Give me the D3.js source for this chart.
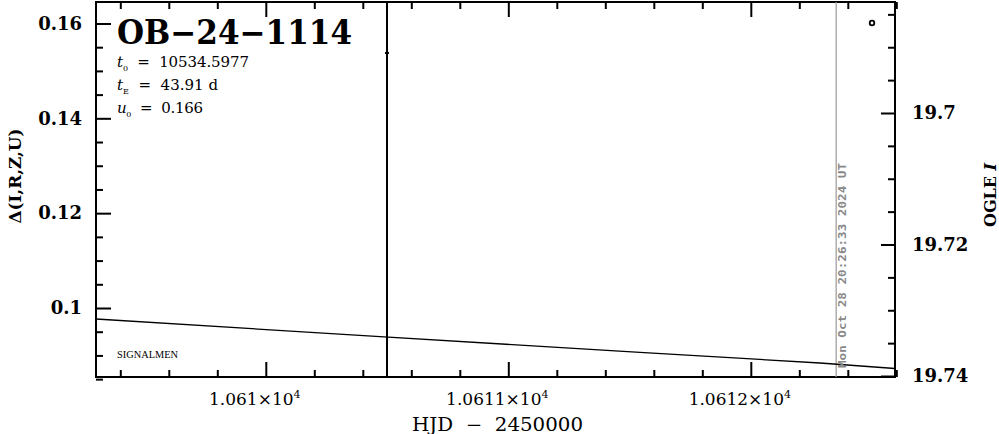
<!DOCTYPE html>
<html><head><meta charset="utf-8">
<script src="https://cdn.jsdelivr.net/npm/d3@7"></script>
<style>body{margin:0;background:#fff}svg{display:block}text{white-space:pre}</style>
</head><body>
<svg id="c" width="999" height="434"></svg>
<script>
// ---- data ----
const xDomain = [10609.2998, 10612.5946];
const deltaDomain = [0.08545, 0.16453];
const magDomain = [19.74015, 19.68312];
const modelHJD = [10609.300, 10610.471, 10611.543, 10612.285, 10612.595];
const modelDelta = [0.09768, 0.09395, 0.09066, 0.08840, 0.08724];
const obsHJD = [10610.4998];
const obsDelta = [0.15378];
const obsErr = [0.30];
const ogleHJD = [10612.4998];
const ogleMag = [19.68631];
const dateLineHJD = 10612.352;
const leftMajor = [0.10, 0.12, 0.14, 0.16];
const leftLabels = ["0.1", "0.12", "0.14", "0.16"];
const rightMajor = [19.70, 19.72, 19.74];
const rightLabels = ["19.7", "19.72", "19.74"];
const xMajor = [10610, 10611, 10612];
const xLabels = ["1.061", "1.0611", "1.0612"];
const paramLabels = [["t", "0", " = 10534.5977"], ["t", "E", " = 43.91 d"], ["u", "0", " = 0.166"]];
const paramWidths = [132, 101, 86];

// ---- layout ----
const L = 96, R = 895, T = 2, B = 377;
const svg = d3.select("#c");
const x = d3.scaleLinear().domain(xDomain).range([L, R]);
const y = d3.scaleLinear().domain(deltaDomain).range([B, T]);
const ym = d3.scaleLinear().domain(magDomain).range([B, T]);

const serif = "'DejaVu Serif', serif";

svg.append("defs").append("clipPath").attr("id", "clip")
  .append("rect").attr("x", L).attr("y", T).attr("width", R - L).attr("height", B - T);

const xMinor = d3.range(10609.4, 10612.6, 0.2).filter(v => Math.abs(v - Math.round(v)) > 1e-6);
const leftMinor = d3.range(0.085, 0.165, 0.005).filter(v => !leftMajor.some(m => Math.abs(m - v) < 1e-6));
const rightMinor = d3.range(19.685, 19.741, 0.005).filter(v => !rightMajor.some(m => Math.abs(m - v) < 1e-6));

function styleAxis(g) {
  g.select(".domain").remove();
  g.selectAll(".tick line").attr("stroke", "#000").attr("stroke-width", 2);
}
// bottom
svg.append("g").attr("transform", `translate(0,${B})`)
  .call(d3.axisBottom(x).tickValues(xMinor).tickSize(-7).tickFormat("")).call(styleAxis);
svg.append("g").attr("transform", `translate(0,${B})`)
  .call(d3.axisBottom(x).tickValues(xMajor).tickSize(-15).tickFormat("")).call(styleAxis);
// top
svg.append("g").attr("transform", `translate(0,${T})`)
  .call(d3.axisTop(x).tickValues(xMinor).tickSize(-7).tickFormat("")).call(styleAxis);
svg.append("g").attr("transform", `translate(0,${T})`)
  .call(d3.axisTop(x).tickValues(xMajor).tickSize(-15).tickFormat("")).call(styleAxis);
// left
svg.append("g").attr("transform", `translate(${L},0)`)
  .call(d3.axisLeft(y).tickValues(leftMinor).tickSize(-7).tickFormat("")).call(styleAxis);
const gl = svg.append("g").attr("transform", `translate(${L},0)`)
  .call(d3.axisLeft(y).tickValues(leftMajor).tickSize(-15).tickPadding(14)
    .tickFormat((d, i) => leftLabels[i])).call(styleAxis);
gl.selectAll("text").attr("font-family", serif).attr("font-weight", "bold")
  .attr("font-size", 18).attr("fill", "#000");
// right
svg.append("g").attr("transform", `translate(${R},0)`)
  .call(d3.axisRight(ym).tickValues(rightMinor).tickSize(-7).tickFormat("")).call(styleAxis);
const gr = svg.append("g").attr("transform", `translate(${R},0)`)
  .call(d3.axisRight(ym).tickValues(rightMajor).tickSize(-14).tickPadding(17)
    .tickFormat((d, i) => rightLabels[i])).call(styleAxis);
gr.selectAll("text").attr("font-family", serif).attr("font-weight", "bold")
  .attr("font-size", 18).attr("fill", "#000");

// x tick labels with superscript
xMajor.forEach((v, i) => {
  const t = svg.append("text").attr("x", x(v) - 11).attr("y", 405)
    .attr("text-anchor", "middle").attr("font-family", serif).attr("font-size", 17);
  t.append("tspan").text(xLabels[i] + "×10");
  t.append("tspan").attr("dy", -7).attr("font-size", 11).text("4");
});

// frame
svg.append("rect").attr("x", L).attr("y", T).attr("width", R - L).attr("height", B - T)
  .attr("fill", "none").attr("stroke", "#000").attr("stroke-width", 2);

const plot = svg.append("g").attr("clip-path", "url(#clip)");
// date line
plot.append("line").attr("x1", x(dateLineHJD)).attr("x2", x(dateLineHJD))
  .attr("y1", T).attr("y2", B).attr("stroke", "#999").attr("stroke-width", 1.2);
// model
plot.append("path").datum(modelHJD.map((h, i) => [h, modelDelta[i]]))
  .attr("d", d3.line().x(d => x(d[0])).y(d => y(d[1])))
  .attr("fill", "none").attr("stroke", "#000").attr("stroke-width", 1.3);
// observation with error bar
obsHJD.forEach((h, i) => {
  plot.append("line").attr("x1", x(h)).attr("x2", x(h))
    .attr("y1", y(obsDelta[i] + obsErr[i])).attr("y2", y(obsDelta[i] - obsErr[i]))
    .attr("stroke", "#000").attr("stroke-width", 2);
  plot.append("rect").attr("x", x(h) - 2).attr("y", y(obsDelta[i]) - 1)
    .attr("width", 4).attr("height", 2).attr("fill", "#000");
});
// OGLE point
ogleHJD.forEach((h, i) => {
  plot.append("circle").attr("cx", x(h)).attr("cy", ym(ogleMag[i])).attr("r", 2.3)
    .attr("fill", "none").attr("stroke", "#000").attr("stroke-width", 1.8);
});

// date text
svg.append("text").attr("transform", `translate(${x(dateLineHJD) + 10},368) rotate(-90)`)
  .attr("font-family", "'DejaVu Sans Mono', monospace").attr("font-weight", "bold")
  .attr("font-size", 11).attr("fill", "#888").attr("textLength", 205)
  .attr("lengthAdjust", "spacingAndGlyphs").text("Mon Oct 28 20:26:33 2024 UT");

// title
svg.append("text").attr("x", 117).attr("y", 44).attr("font-family", serif)
  .attr("font-weight", "bold").attr("font-size", 33).attr("textLength", 235)
  .attr("lengthAdjust", "spacingAndGlyphs").text("OB−24−1114");

// parameters
paramLabels.forEach((p, i) => {
  const t = svg.append("text").attr("x", 117).attr("y", 67 + i * 23)
    .attr("font-family", serif).attr("font-size", 15)
    .attr("textLength", paramWidths[i]).attr("lengthAdjust", "spacing");
  t.append("tspan").attr("font-style", "italic").text(p[0]);
  t.append("tspan").attr("dy", 4).attr("font-size", 8).text(p[1]);
  t.append("tspan").attr("dy", -4).text(p[2].replace("=", " = "));
});

// SIGNALMEN
svg.append("text").attr("x", 117).attr("y", 358).attr("font-family", "'Liberation Serif', serif")
  .attr("font-size", 10).attr("textLength", 61).attr("lengthAdjust", "spacingAndGlyphs").text("SIGNALMEN");

// axis titles
svg.append("text").attr("x", 412).attr("y", 431)
  .attr("font-family", serif).attr("font-size", 18).attr("textLength", 171)
  .attr("lengthAdjust", "spacingAndGlyphs").text("HJD  −  2450000");
svg.append("text").attr("transform", "translate(21,176) rotate(-90)").attr("text-anchor", "middle")
  .attr("font-family", serif).attr("font-weight", "bold").attr("font-size", 16)
  .attr("textLength", 95).attr("lengthAdjust", "spacingAndGlyphs").text("Δ(I,R,Z,U)");
const ot = svg.append("text").attr("transform", "translate(996,195) rotate(-90)").attr("text-anchor", "middle")
  .attr("font-family", serif).attr("font-weight", "bold").attr("font-size", 16);
ot.append("tspan").text("OGLE ");
ot.append("tspan").attr("font-style", "italic").text("I");
</script>
</body></html>
